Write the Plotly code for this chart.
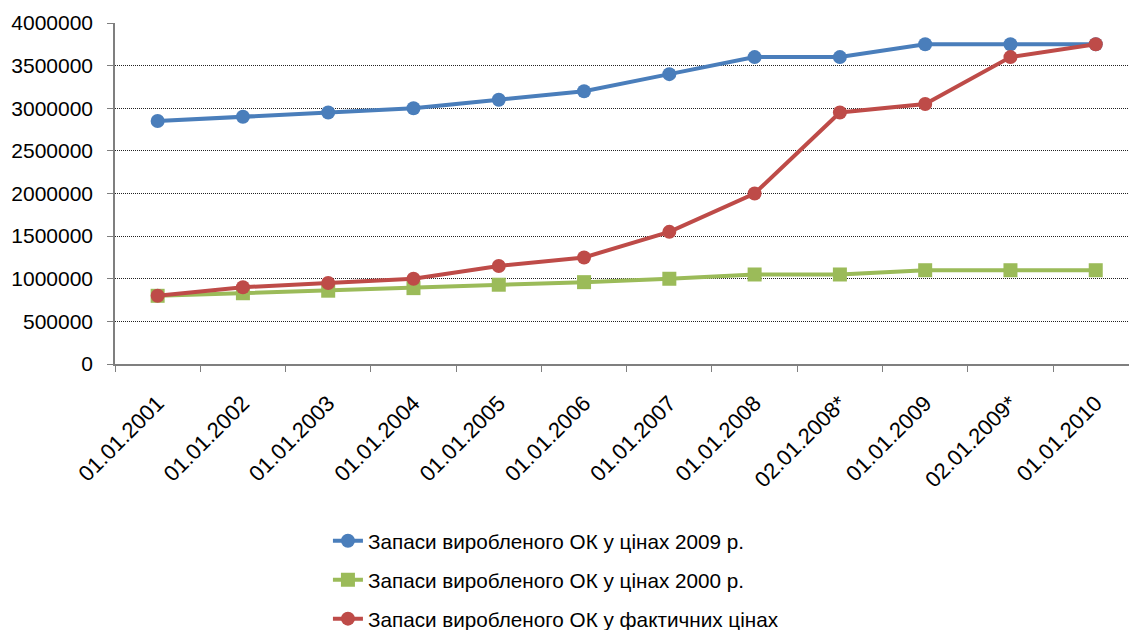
import plotly.graph_objects as go

# Dates of the stock estimates
dates = ["01.01.2001", "01.01.2002", "01.01.2003", "01.01.2004", "01.01.2005",
         "01.01.2006", "01.01.2007", "01.01.2008", "02.01.2008*", "01.01.2009",
         "02.01.2009*", "01.01.2010"]

# Stocks in 2009 prices
stock_2009 = [2850000, 2900000, 2950000, 3000000, 3100000, 3200000,
              3400000, 3600000, 3600000, 3750000, 3750000, 3750000]

# Stocks in 2000 prices
stock_2000 = [800000, 830000, 860000, 890000, 930000, 960000,
              1000000, 1050000, 1050000, 1100000, 1100000, 1100000]

# Stocks in current prices
stock_actual = [800000, 900000, 950000, 1000000, 1150000, 1250000,
                1550000, 2000000, 2950000, 3050000, 3600000, 3750000]

names = ["Запаси виробленого ОК у цінах 2009 р.",
         "Запаси виробленого ОК у цінах 2000 р.",
         "Запаси виробленого ОК у фактичних цінах"]

y_ticks = [0, 500000, 1000000, 1500000, 2000000, 2500000, 3000000, 3500000, 4000000]

FONT = "Liberation Sans, Arial, sans-serif"
AXIS_COLOR = "#7f7f7f"

fig = go.Figure()
series = [
    (stock_2009, "#4A7EBB", "circle"),
    (stock_2000, "#9BBB59", "square"),
    (stock_actual, "#BE4B48", "circle"),
]
for i, (vals, color, symbol) in enumerate(series):
    fig.add_trace(go.Scatter(
        x=dates, y=vals, name=names[i], mode="lines+markers",
        line=dict(color=color, width=4),
        marker=dict(color=color, size=14, symbol=symbol),
        legendgroup=f"g{i}",
    ))

fig.update_layout(
    width=1129, height=630,
    margin=dict(l=115, r=0, t=23, b=266, autoexpand=False),
    paper_bgcolor="white", plot_bgcolor="white",
    font=dict(family=FONT, size=21, color="black"),
    showlegend=True,
    legend=dict(
        x=0.21, y=-0.46, xanchor="left", yanchor="top",
        orientation="v", tracegroupgap=9,
        font=dict(family=FONT, size=20.7, color="black"),
        bgcolor="rgba(0,0,0,0)",
    ),
)

fig.update_xaxes(
    type="category", range=[-0.5, 11.39],
    showline=True, linecolor=AXIS_COLOR, linewidth=1.5,
    ticks="outside", tickson="boundaries", ticklen=6, tickcolor=AXIS_COLOR,
    tickangle=-45, tickfont=dict(family=FONT, size=22, color="black"),
    ticklabelstandoff=16,
    showgrid=False, zeroline=False,
)
fig.update_yaxes(
    range=[0, 4000000], tickvals=y_ticks, ticktext=[str(v) for v in y_ticks],
    showline=True, linecolor=AXIS_COLOR, linewidth=1.5,
    ticks="outside", ticklen=6, tickcolor=AXIS_COLOR,
    tickfont=dict(family=FONT, size=21, color="black"),
    ticklabelstandoff=10,
    showgrid=True, gridcolor="#222222", gridwidth=1, griddash="1px,1px",
    zeroline=False,
)

fig.write_html("out.html")
